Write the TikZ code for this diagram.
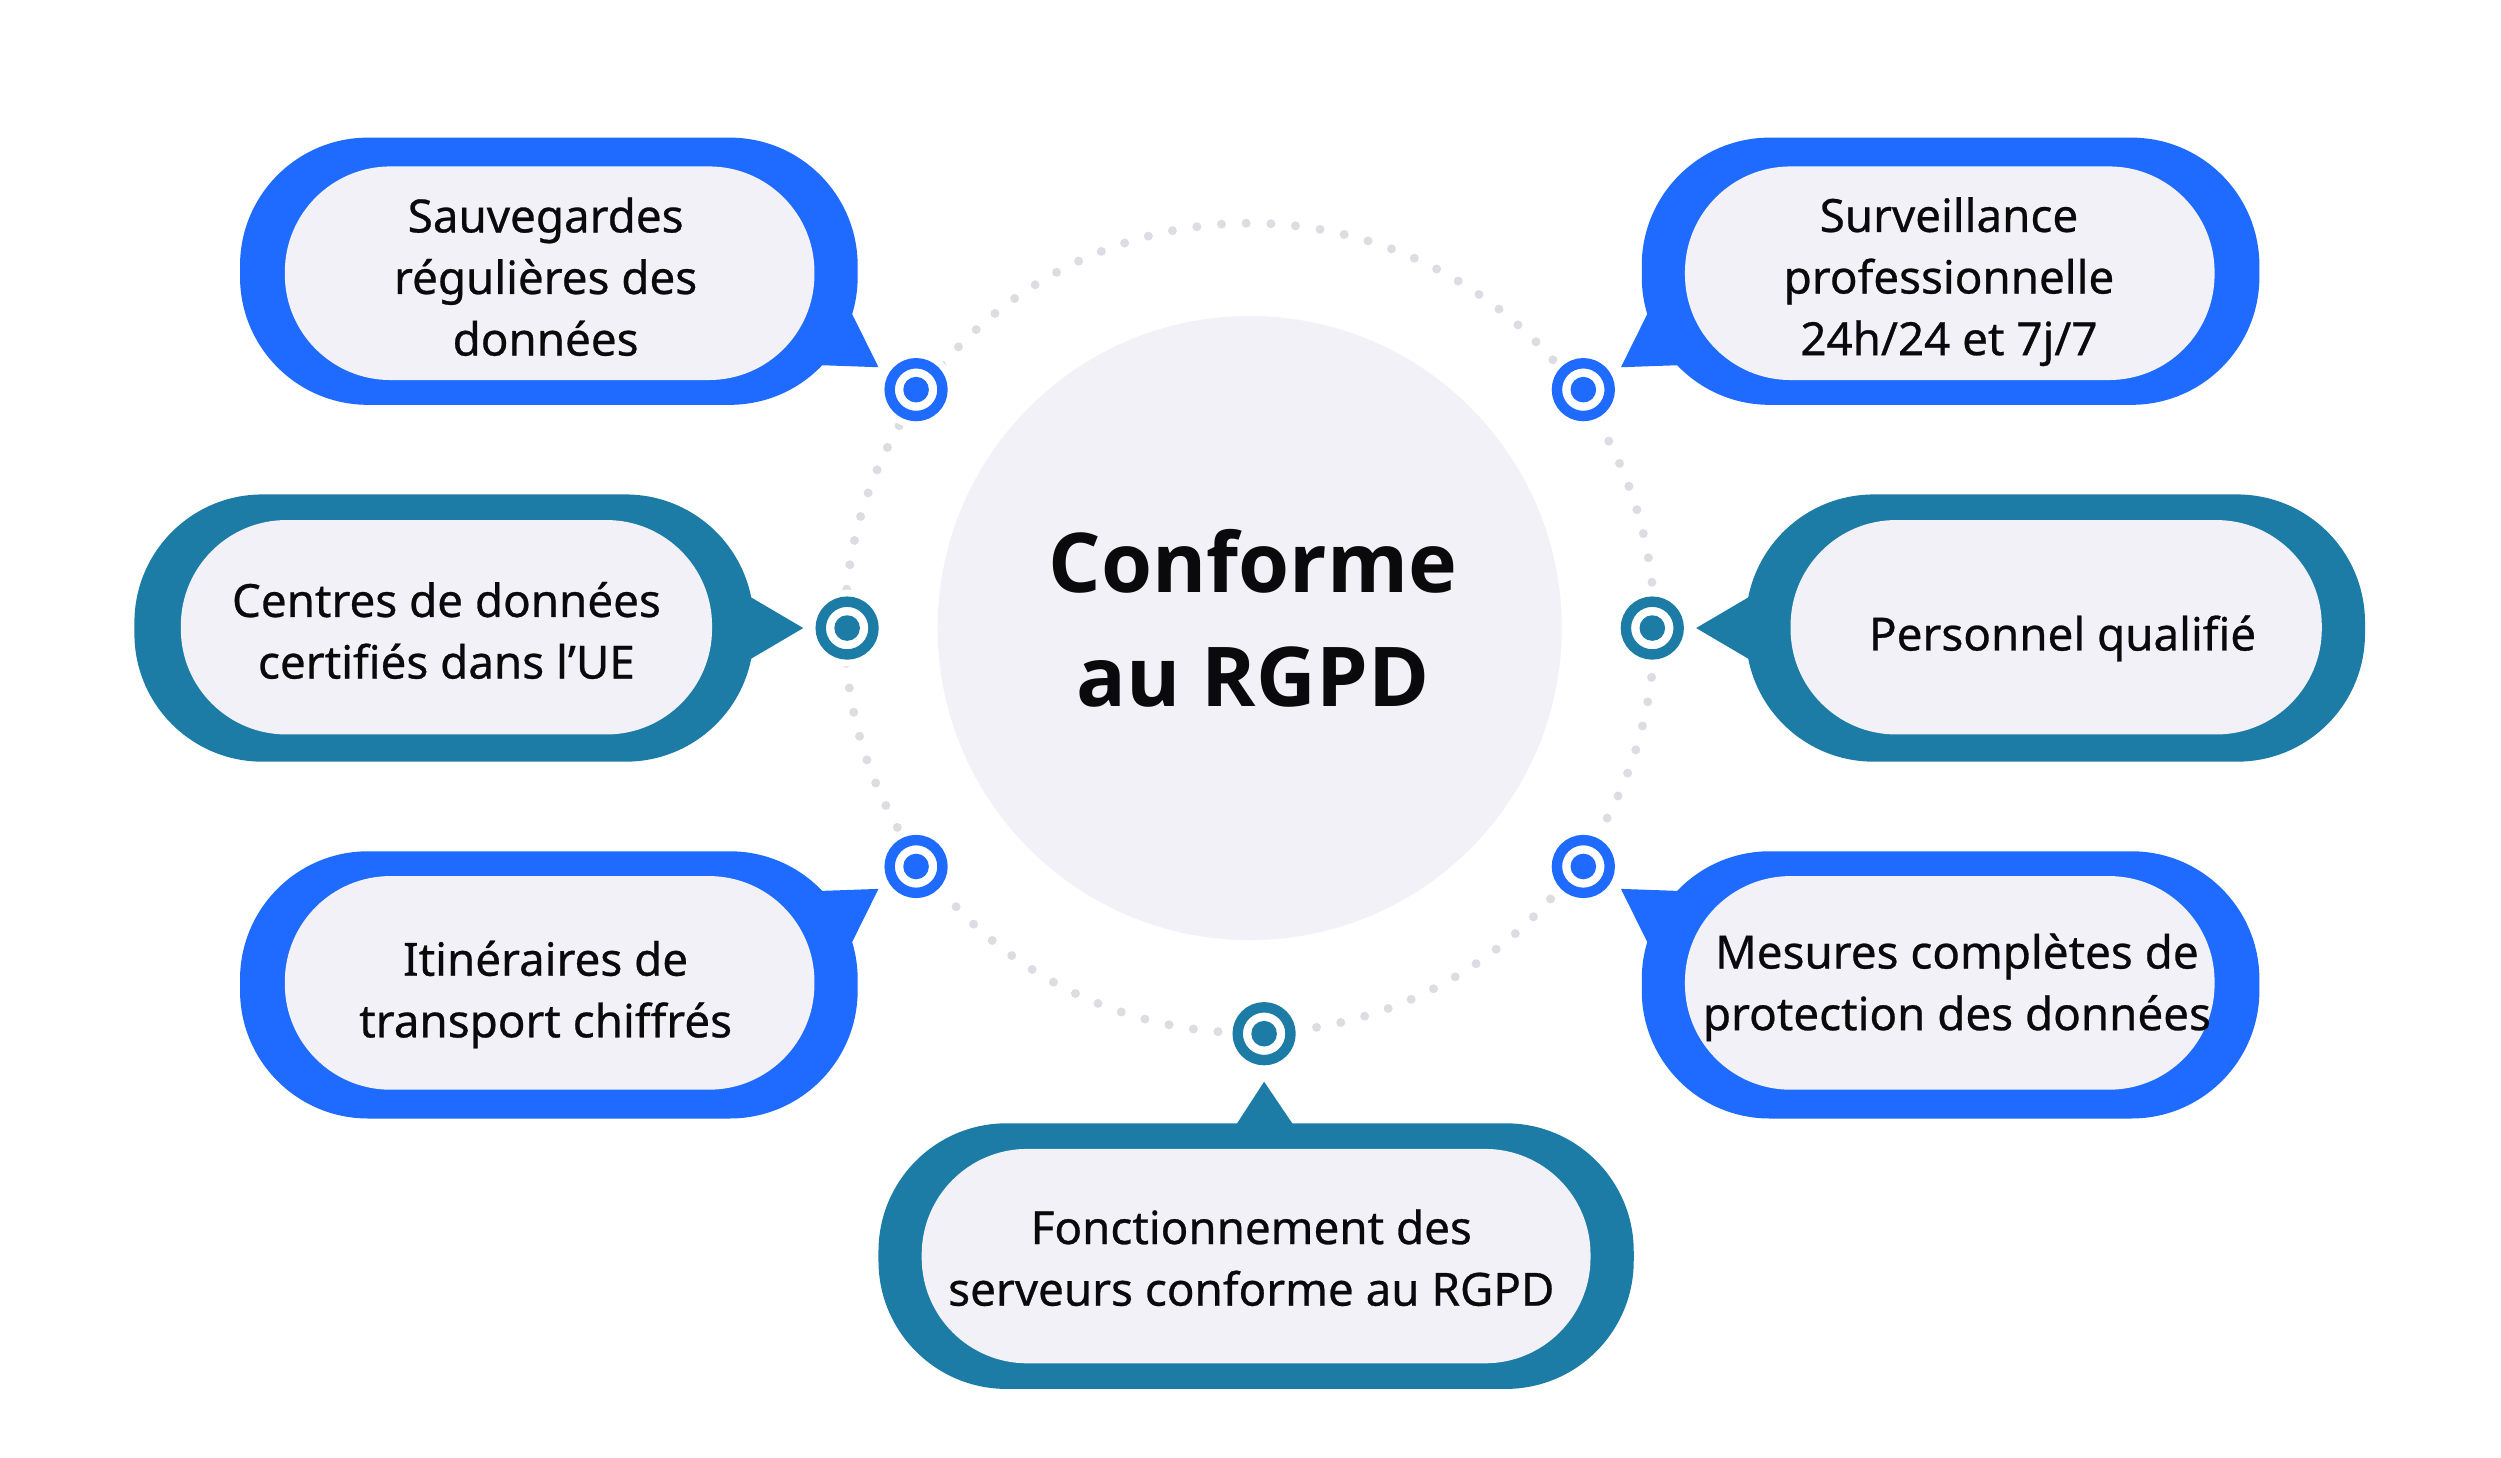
\documentclass[tikz,border=0pt]{standalone}
\usepackage{fontspec}
\setmainfont{Noto Sans}[FakeBold=0.6]
\newfontfamily\titlefont{Open Sans}
\definecolor{bubbleblue}{RGB}{31,107,255}
\definecolor{bubbleteal}{RGB}{28,124,166}
\definecolor{innerfill}{RGB}{241,241,247}
\definecolor{dotgray}{RGB}{220,220,227}
\definecolor{inkblack}{RGB}{10,10,12}
\tikzset{
  outerbox/.style={fill=#1, rounded corners=80pt},
  innerbox/.style={fill=innerfill, rounded corners=66pt},
  bubbletext/.style={align=center, text=inkblack, inner sep=0pt,
    font=\fontsize{28.6pt}{38.5pt}\selectfont},
  titletext/.style={align=center, text=inkblack, inner sep=0pt,
    font=\titlefont\bfseries\fontsize{51.6pt}{71pt}\selectfont},
  marker/.style={circle, draw=#1, line width=6.5pt, fill=white,
    minimum size=33pt, inner sep=0pt,
    path picture={\fill[#1] (path picture bounding box.center) circle (8pt);}},
}
\begin{document}
\begin{tikzpicture}[x=1pt,y=-1pt]
\useasboundingbox (0,0) rectangle (1563,910.6);
\fill[white] (0,0) rectangle (1563,910.6);

% central circle
\node[circle, fill=innerfill, minimum size=390pt, inner sep=0pt] (hub) at (781,392.5) {};

% dotted ring
\foreach \a in {0,3.5,...,356.5}
  \fill[dotgray] (781,392.5) ++(\a:253) circle (2.8);

% halos behind markers
\foreach \p in {(572.5,243.5),(989.5,243.5),(529.4,392.5),(1032.6,392.5),(572.5,541.5),(989.5,541.5),(790,646)}
  \fill[white] \p circle (24);

\node[titletext] (title) at (783,386.5) {Conforme\\au RGPD};

% bubble 1
\fill[bubbleblue] (490,227.4) -- (549,229.5) -- (524,179) -- cycle;
\fill[outerbox=bubbleblue] (150,86) rectangle (536,253);
\fill[innerbox] (178,104) rectangle (509,237.5);
\node[bubbletext] (t1) at (341,173) {Sauvegardes\\régulières des\\données};

% bubble 2
\fill[bubbleblue] (1072,227.4) -- (1013,229.5) -- (1038,179) -- cycle;
\fill[outerbox=bubbleblue] (1026,86) rectangle (1412,253);
\fill[innerbox] (1053,104) rectangle (1384,237.5);
\node[bubbletext] (t2) at (1218,176) {Surveillance\\professionnelle\\24h/24 et 7j/7};

% bubble 3
\fill[bubbleteal] (445,359) -- (502,392.5) -- (445,426) -- cycle;
\fill[outerbox=bubbleteal] (84,309) rectangle (471,476);
\fill[innerbox] (113,325) rectangle (445,459);
\node[bubbletext] (t3) at (279,394) {Centres de données\\certifiés dans l’UE};

% bubble 4
\fill[bubbleteal] (1117,359) -- (1060,392.5) -- (1117,426) -- cycle;
\fill[outerbox=bubbleteal] (1091,309) rectangle (1478,476);
\fill[innerbox] (1119,325) rectangle (1451,459);
\node[bubbletext] (t4) at (1289,399) {Personnel qualifié};

% bubble 5
\fill[bubbleblue] (490,557.6) -- (549,555.5) -- (524,606) -- cycle;
\fill[outerbox=bubbleblue] (150,532) rectangle (536,699);
\fill[innerbox] (178,547.5) rectangle (509,681);
\node[bubbletext] (t5) at (341,621.5) {Itinéraires de\\transport chiffrés};

% bubble 6
\fill[bubbleblue] (1072,557.6) -- (1013,555.5) -- (1038,606) -- cycle;
\fill[outerbox=bubbleblue] (1026,532) rectangle (1412,699);
\fill[innerbox] (1053,547.5) rectangle (1384,681);
\node[bubbletext] (t6) at (1223,617) {Mesures complètes de\\protection des données};

% bubble 7
\fill[bubbleteal] (766,713) -- (790,676) -- (815,713) -- cycle;
\fill[outerbox=bubbleteal] (549,702) rectangle (1021,868);
\fill[innerbox] (576,718) rectangle (994,852);
\node[bubbletext] (t7) at (782,786) {Fonctionnement des\\serveurs conforme au RGPD};

% markers
\node[marker=bubbleblue] (m1) at (572.5,243.5) {};
\node[marker=bubbleblue] (m2) at (989.5,243.5) {};
\node[marker=bubbleteal] (m3) at (529.4,392.5) {};
\node[marker=bubbleteal] (m4) at (1032.6,392.5) {};
\node[marker=bubbleblue] (m5) at (572.5,541.5) {};
\node[marker=bubbleblue] (m6) at (989.5,541.5) {};
\node[marker=bubbleteal] (m7) at (790,646) {};
\end{tikzpicture}
\end{document}
